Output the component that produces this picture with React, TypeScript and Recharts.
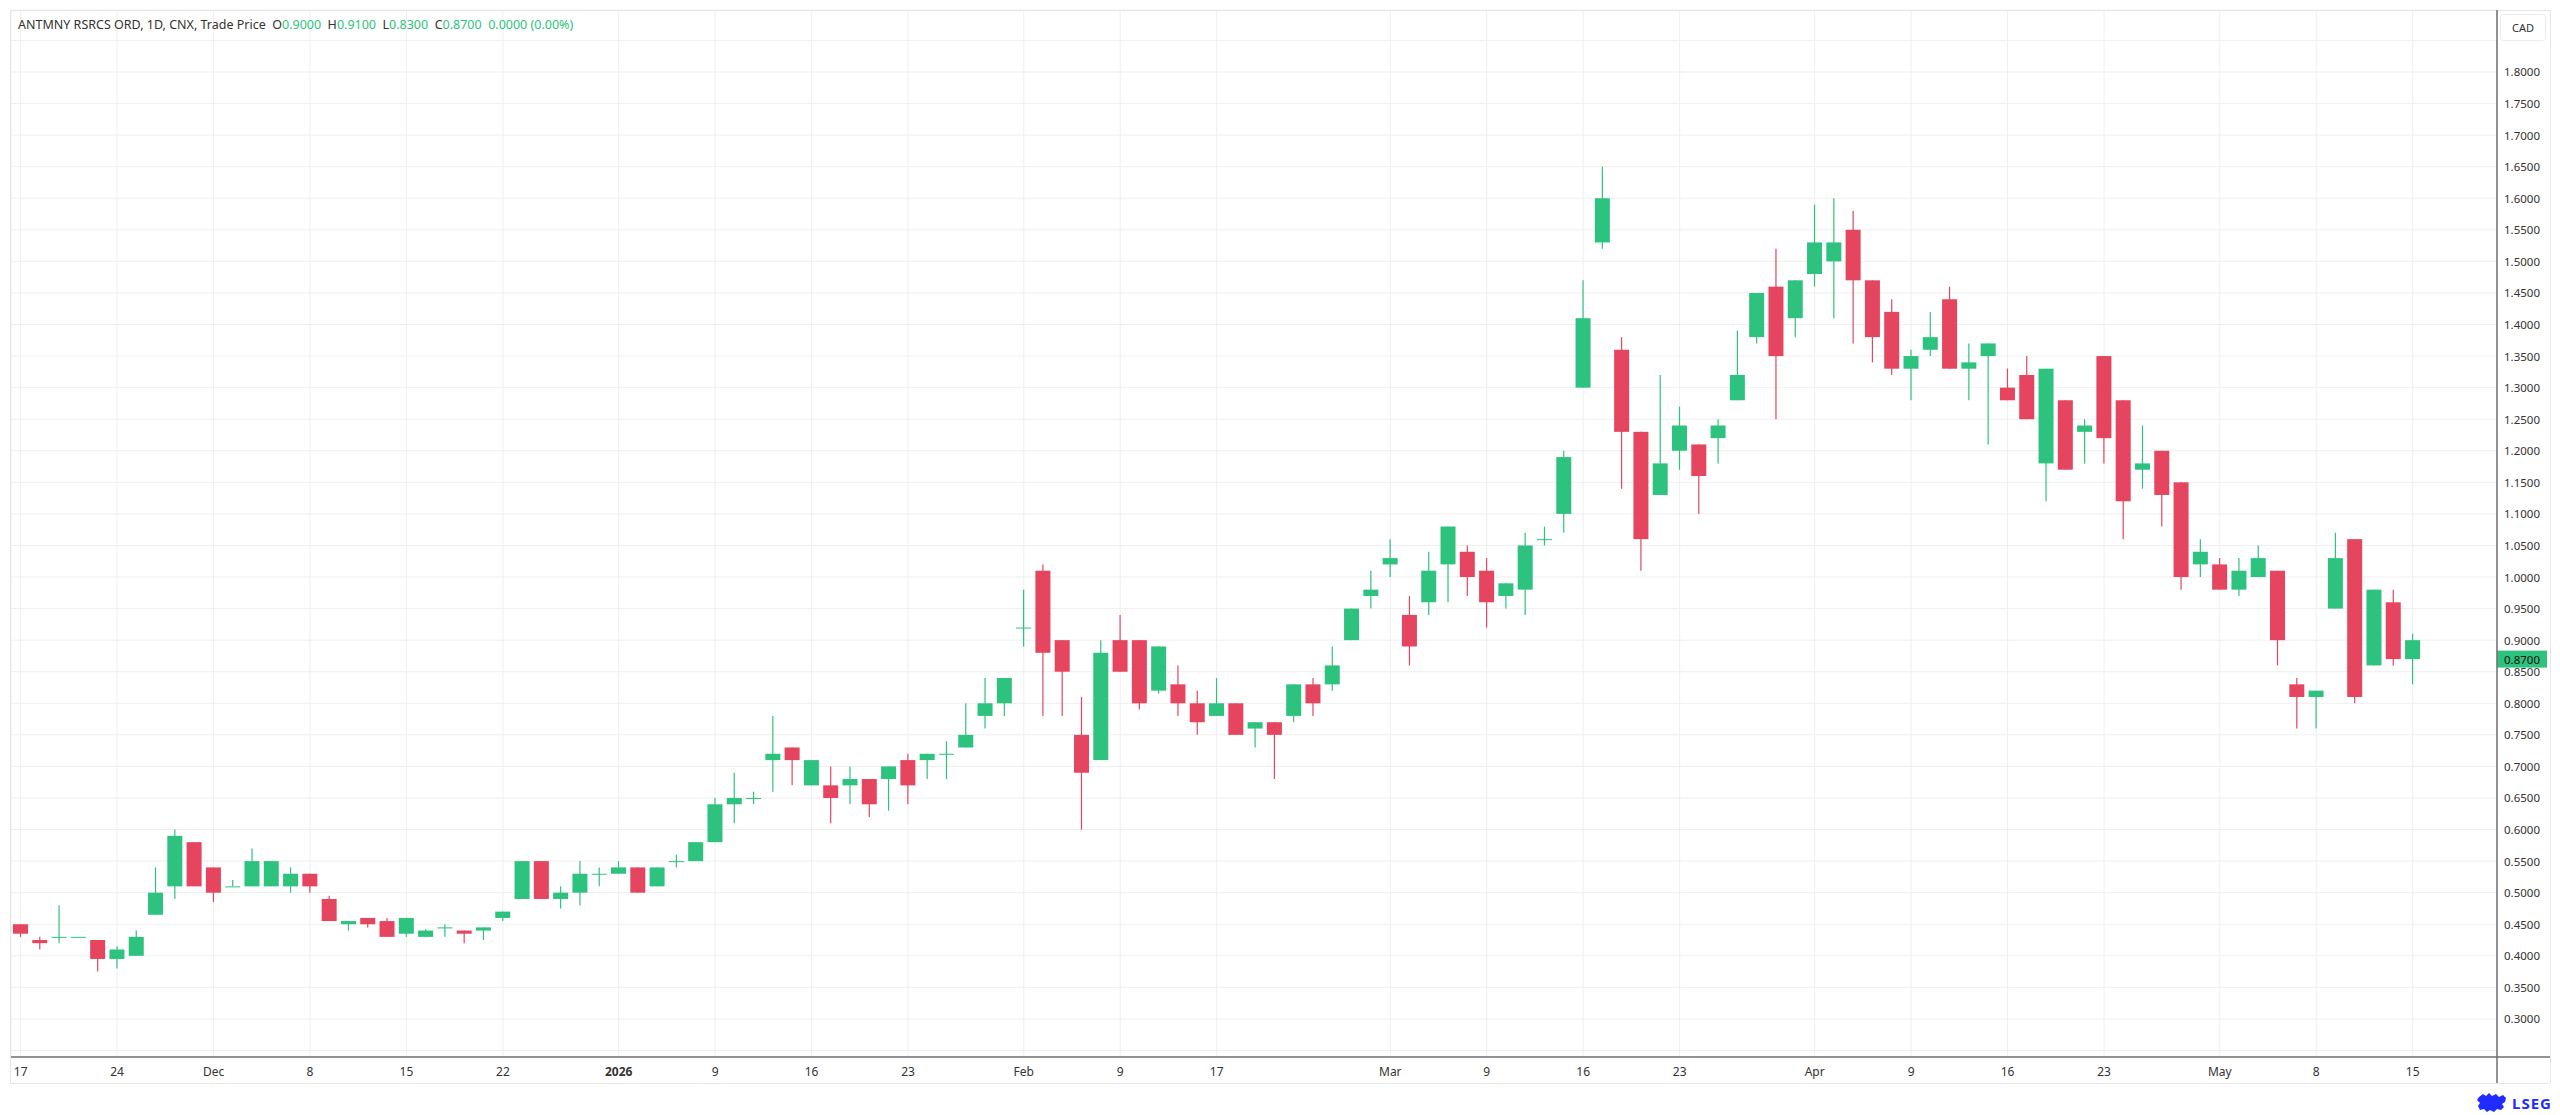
import React from "react";
import {
  ComposedChart,
  Bar,
  XAxis,
  YAxis,
  CartesianGrid,
  ReferenceLine,
} from "recharts";

// ---- Data (daily candles, 17 Nov 2025 .. 15 May 2026, trading days only) ----
const OPEN = [
  0.45, 0.425, 0.43, 0.43, 0.425, 0.395, 0.4, 0.465, 0.51, 0.58,
  0.54, 0.51, 0.51, 0.51, 0.51, 0.53, 0.49, 0.45, 0.46, 0.455,
  0.435, 0.43, 0.445, 0.44, 0.44, 0.46, 0.49, 0.55, 0.49, 0.5,
  0.53, 0.53, 0.54, 0.51, 0.55, 0.55, 0.58, 0.64, 0.65, 0.71,
  0.73, 0.67, 0.67, 0.67, 0.68, 0.68, 0.71, 0.71, 0.72, 0.73,
  0.78, 0.8, 0.92, 1.01, 0.9, 0.75, 0.71, 0.9, 0.9, 0.82,
  0.83, 0.8, 0.78, 0.8, 0.76, 0.77, 0.78, 0.83, 0.83, 0.9,
  0.97, 1.02, 0.94, 0.96, 1.02, 1.04, 1.01, 0.97, 0.98, 1.06,
  1.1, 1.3, 1.53, 1.36, 1.23, 1.13, 1.2, 1.21, 1.22, 1.28,
  1.38, 1.46, 1.41, 1.48, 1.5, 1.55, 1.47, 1.42, 1.33, 1.36,
  1.44, 1.33, 1.35, 1.3, 1.32, 1.18, 1.28, 1.23, 1.35, 1.28,
  1.17, 1.2, 1.15, 1.02, 1.02, 0.98, 1.0, 1.01, 0.83, 0.81,
  0.95, 1.06, 0.86, 0.96, 0.87,
];
const HIGH = [
  0.45, 0.43, 0.48, 0.43, 0.425, 0.415, 0.44, 0.54, 0.6, 0.58,
  0.54, 0.52, 0.57, 0.55, 0.54, 0.53, 0.495, 0.455, 0.46, 0.46,
  0.46, 0.442, 0.45, 0.44, 0.445, 0.47, 0.55, 0.55, 0.51, 0.55,
  0.54, 0.55, 0.54, 0.54, 0.56, 0.58, 0.65, 0.69, 0.66, 0.78,
  0.73, 0.71, 0.7, 0.7, 0.68, 0.7, 0.72, 0.72, 0.74, 0.8,
  0.84, 0.84, 0.98, 1.02, 0.9, 0.81, 0.9, 0.94, 0.9, 0.89,
  0.86, 0.82, 0.84, 0.8, 0.77, 0.77, 0.83, 0.84, 0.89, 0.95,
  1.01, 1.06, 0.97, 1.04, 1.08, 1.05, 1.03, 0.99, 1.07, 1.08,
  1.2, 1.47, 1.65, 1.38, 1.23, 1.32, 1.27, 1.21, 1.25, 1.39,
  1.45, 1.52, 1.47, 1.59, 1.6, 1.58, 1.47, 1.44, 1.36, 1.42,
  1.46, 1.37, 1.37, 1.33, 1.35, 1.33, 1.28, 1.25, 1.35, 1.28,
  1.24, 1.2, 1.15, 1.06, 1.03, 1.03, 1.05, 1.01, 0.84, 0.82,
  1.07, 1.06, 0.98, 0.98, 0.91,
];
const LOW = [
  0.43, 0.41, 0.42, 0.43, 0.375, 0.38, 0.4, 0.465, 0.49, 0.51,
  0.485, 0.51, 0.51, 0.51, 0.5, 0.5, 0.455, 0.44, 0.445, 0.43,
  0.43, 0.43, 0.43, 0.42, 0.425, 0.455, 0.49, 0.49, 0.475, 0.48,
  0.51, 0.53, 0.5, 0.51, 0.54, 0.55, 0.58, 0.61, 0.64, 0.66,
  0.67, 0.67, 0.61, 0.64, 0.62, 0.63, 0.64, 0.68, 0.68, 0.73,
  0.76, 0.78, 0.89, 0.78, 0.78, 0.6, 0.71, 0.85, 0.79, 0.815,
  0.78, 0.75, 0.78, 0.75, 0.73, 0.68, 0.77, 0.78, 0.82, 0.9,
  0.95, 1.0, 0.86, 0.94, 0.96, 0.97, 0.92, 0.95, 0.94, 1.05,
  1.07, 1.3, 1.52, 1.14, 1.01, 1.13, 1.17, 1.1, 1.18, 1.28,
  1.37, 1.25, 1.38, 1.46, 1.41, 1.37, 1.34, 1.32, 1.28, 1.35,
  1.33, 1.28, 1.21, 1.28, 1.25, 1.12, 1.17, 1.18, 1.18, 1.06,
  1.14, 1.08, 0.98, 1.0, 0.98, 0.97, 1.0, 0.86, 0.76, 0.76,
  0.95, 0.8, 0.86, 0.86, 0.83,
];
const CLOSE = [
  0.435, 0.42, 0.43, 0.43, 0.395, 0.41, 0.43, 0.5, 0.59, 0.51,
  0.5, 0.51, 0.55, 0.55, 0.53, 0.51, 0.455, 0.455, 0.45, 0.43,
  0.46, 0.44, 0.445, 0.435, 0.445, 0.47, 0.55, 0.49, 0.5, 0.53,
  0.53, 0.54, 0.5, 0.54, 0.55, 0.58, 0.64, 0.65, 0.65, 0.72,
  0.71, 0.71, 0.65, 0.68, 0.64, 0.7, 0.67, 0.72, 0.72, 0.75,
  0.8, 0.84, 0.92, 0.88, 0.85, 0.69, 0.88, 0.85, 0.8, 0.89,
  0.8, 0.77, 0.8, 0.75, 0.77, 0.75, 0.83, 0.8, 0.86, 0.95,
  0.98, 1.03, 0.89, 1.01, 1.08, 1.0, 0.96, 0.99, 1.05, 1.06,
  1.19, 1.41, 1.6, 1.23, 1.06, 1.18, 1.24, 1.16, 1.24, 1.32,
  1.45, 1.35, 1.47, 1.53, 1.53, 1.47, 1.38, 1.33, 1.35, 1.38,
  1.33, 1.34, 1.37, 1.28, 1.25, 1.33, 1.17, 1.24, 1.22, 1.12,
  1.18, 1.13, 1.0, 1.04, 0.98, 1.01, 1.03, 0.9, 0.81, 0.82,
  1.03, 0.81, 0.98, 0.87, 0.9,
];

// x-axis tick positions (bar index) and their labels
const TICK_INDEX = [0, 5, 10, 15, 20, 25, 31, 36, 41, 46, 52, 57, 62, 71, 76, 81, 86, 93, 98, 103, 108, 114, 119, 124];
const TICK_LABELS = ["17", "24", "Dec", "8", "15", "22", "2026", "9", "16", "23", "Feb", "9", "17", "Mar", "9", "16", "23", "Apr", "9", "16", "23", "May", "8", "15"];

// price axis ticks
const Y_TICKS = [0.25, 0.3, 0.35, 0.4, 0.45, 0.5, 0.55, 0.6, 0.65, 0.7, 0.75, 0.8, 0.85, 0.9, 0.95, 1.0, 1.05, 1.1, 1.15, 1.2, 1.25, 1.3, 1.35, 1.4, 1.45, 1.5, 1.55, 1.6, 1.65, 1.7, 1.75, 1.8, 1.85];
const Y_HIDDEN = [0.25, 1.85];

// header
const TITLE = "ANTMNY RSRCS ORD, 1D, CNX, Trade Price";
const HDR_O = 0.9;
const HDR_H = 0.91;
const HDR_L = 0.83;
const HDR_C = 0.87;
const HDR_CHG = 0.0;
const HDR_PCT = 0.0;
const LAST_PRICE = HDR_C;
const CURRENCY = "CAD";

const GREEN = "#2DC37E";
const RED = "#E5455F";
const TEXT = "#333333";
const FONT = "'Noto Sans', 'DejaVu Sans', sans-serif";

const data = OPEN.map((o, i) => ({
  i,
  open: o,
  high: HIGH[i],
  low: LOW[i],
  close: CLOSE[i],
}));

const Candle = (props: any) => {
  const { x, y, width, height, payload } = props;
  if (x == null || y == null || !payload) return null;
  const { open, close, high, low } = payload;
  const color = close >= open ? GREEN : RED;
  const top = Math.min(y, y + height);
  const h = Math.abs(height);
  const range = high - low;
  const k = range > 0 ? h / range : 0;
  const yO = top + (high - open) * k;
  const yC = top + (high - close) * k;
  const bTop = Math.min(yO, yC);
  const bH = Math.max(Math.abs(yO - yC), 1);
  const cx = x + width / 2;
  return (
    <g>
      {h > 0 && (
        <line x1={cx} x2={cx} y1={top} y2={top + h} stroke={color} strokeWidth={1.2} />
      )}
      <rect x={x} y={bTop} width={width} height={bH} fill={color} />
    </g>
  );
};

const XTick = (props: any) => {
  const { x, y, payload } = props;
  const k = TICK_INDEX.indexOf(payload.value);
  const label = k >= 0 ? TICK_LABELS[k] : "";
  return (
    <text
      x={x}
      y={y + 14}
      textAnchor="middle"
      dominantBaseline="central"
      fontSize={12}
      fontFamily={FONT}
      fontWeight={label === "2026" ? 700 : 400}
      fill={TEXT}
    >
      {label}
    </text>
  );
};

const YTick = (props: any) => {
  const { x, y, payload } = props;
  const v = payload.value as number;
  if (Y_HIDDEN.some((h) => Math.abs(h - v) < 1e-9)) return null;
  return (
    <text
      x={x + 7}
      y={y}
      textAnchor="start"
      dominantBaseline="central"
      fontSize={11.5}
      fontFamily={FONT}
      fill={TEXT}
    >
      {v.toFixed(4)}
    </text>
  );
};

const PriceLabel = (props: any) => {
  const vb = props.viewBox || {};
  const right = (vb.x || 0) + (vb.width || 0);
  const cy = vb.y || 0;
  return (
    <g>
      <rect x={right} y={cy - 8.5} width={50} height={17} fill={GREEN} />
      <text
        x={right + 7}
        y={cy}
        dominantBaseline="central"
        fontSize={11.5}
        fontFamily={FONT}
        fill="#111"
      >
        {LAST_PRICE.toFixed(4)}
      </text>
    </g>
  );
};

const Header = () => {
  const g = { color: GREEN };
  const f = (v: number) => v.toFixed(4);
  return (
    <div
      style={{
        position: "absolute",
        left: 18,
        top: 16,
        fontSize: 12.5,
        lineHeight: "18px",
        fontFamily: FONT,
        color: TEXT,
        whiteSpace: "pre",
        pointerEvents: "none",
      }}
    >
      <span>{TITLE}</span>
      <span>{"  O"}</span>
      <span style={g}>{f(HDR_O)}</span>
      <span>{"  H"}</span>
      <span style={g}>{f(HDR_H)}</span>
      <span>{"  L"}</span>
      <span style={g}>{f(HDR_L)}</span>
      <span>{"  C"}</span>
      <span style={g}>{f(HDR_C)}</span>
      <span style={g}>{"  " + f(HDR_CHG) + " (" + HDR_PCT.toFixed(2) + "%)"}</span>
    </div>
  );
};

export default function App() {
  return (
    <div
      style={{
        position: "fixed",
        left: 0,
        top: 0,
        width: 2560,
        height: 1115,
        background: "#ffffff",
        fontFamily: FONT,
        overflow: "hidden",
      }}
    >
      <ComposedChart
        width={2560}
        height={1115}
        data={data}
        margin={{ top: 10, right: 0, bottom: 0, left: 11 }}
      >
        <CartesianGrid stroke="#efefef" strokeWidth={1} />
        <XAxis
          dataKey="i"
          type="number"
          domain={[-0.5, 128.37]}
          ticks={TICK_INDEX}
          interval={0}
          height={58}
          tickLine={false}
          axisLine={false}
          tickSize={0}
          tickMargin={0}
          tick={<XTick />}
          allowDataOverflow
        />
        <YAxis
          orientation="right"
          type="number"
          domain={[0.2397, 1.8982]}
          ticks={Y_TICKS}
          interval={0}
          width={63}
          tickLine={false}
          axisLine={false}
          tickSize={0}
          tickMargin={0}
          tick={<YTick />}
          allowDataOverflow
        />
        <Bar
          dataKey={(d: any) => [d.low, d.high]}
          barSize={15}
          shape={<Candle />}
          isAnimationActive={false}
        />
        <ReferenceLine
          y={LAST_PRICE}
          stroke={GREEN}
          strokeOpacity={0}
          label={<PriceLabel />}
        />
      </ComposedChart>

      <svg
        width={2560}
        height={1115}
        style={{ position: "absolute", left: 0, top: 0, pointerEvents: "none" }}
      >
        {/* outer frame */}
        <line x1={10} x2={2550} y1={10.5} y2={10.5} stroke="#e6e6e6" />
        <line x1={10.5} x2={10.5} y1={10} y2={1083} stroke="#e6e6e6" />
        <line x1={10} x2={2550} y1={1083.5} y2={1083.5} stroke="#e6e6e6" />
        <line x1={2550.5} x2={2550.5} y1={10} y2={1083} stroke="#e6e6e6" />
        {/* axis borders */}
        <line x1={11} x2={2550} y1={1057} y2={1057} stroke="#6f6f6f" strokeWidth={1.5} />
        <line x1={2497} x2={2497} y1={10} y2={1083} stroke="#6f6f6f" strokeWidth={1.5} />
        {/* currency box */}
        <rect x={2500.5} y={14.5} width={45} height={26} rx={3} fill="#ffffff" stroke="#ececec" />
        <text x={2523} y={27.5} textAnchor="middle" dominantBaseline="central" fontSize={11} fontFamily={FONT} fill={TEXT}>
          {CURRENCY}
        </text>
        {/* LSEG mark */}
        <g fill="#1f2bff">
          <path d="M2479 1097 l4 -3 l3 2 l3 -3 l3 3 l4 -2 l3 3 l4 -2 l3 3 l-1 4 l-3 2 l2 3 l-3 3 l-4 -1 l-3 3 l-4 -2 l-3 2 l-3 -3 l-4 1 l-2 -4 l2 -3 l-3 -3 z" />
        </g>
        <text x={2512} y={1103} dominantBaseline="central" fontSize={15} fontWeight={700} fontFamily={FONT} fill="#1f2bff" letterSpacing={1}>
          LSEG
        </text>
      </svg>

      <Header />
    </div>
  );
}
